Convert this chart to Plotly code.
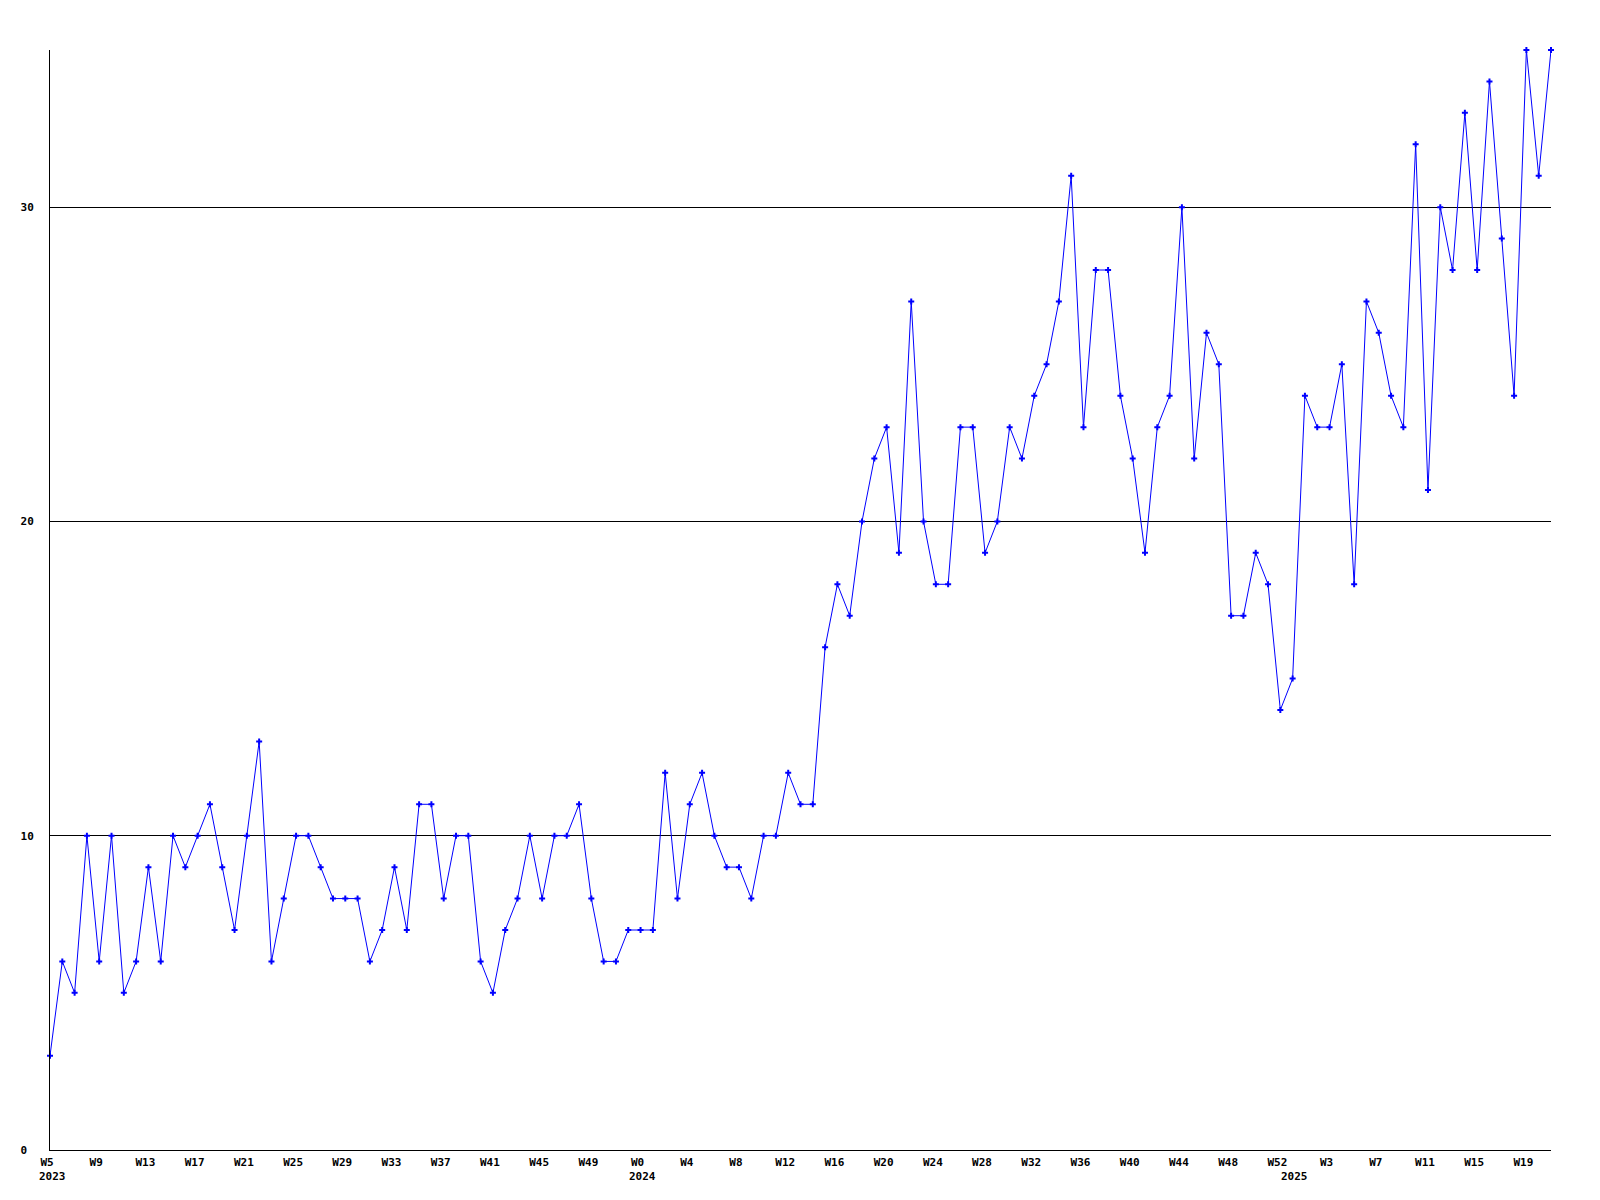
import plotly.graph_objects as go

# ---- data ----
years = [2023, 2024, 2025]
first_week = [5, 0, 0]
last_week = [52, 52, 21]

values = [
    3, 6, 5, 10, 6, 10, 5, 6, 9, 6, 10, 9, 10, 11, 9, 7, 10, 13, 6, 8,
    10, 10, 9, 8, 8, 8, 6, 7, 9, 7, 11, 11, 8, 10,
    10, 6, 5, 7, 8, 10, 8, 10, 10, 11, 8, 6, 6, 7, 7, 7, 12, 8, 11, 12,
    10, 9, 9, 8, 10, 10, 12, 11, 11,
    16, 18, 17, 20, 22, 23, 19, 27, 20, 18, 18, 23, 23, 19, 20, 23, 22, 24, 25, 27,
    31, 23, 28, 28, 24, 22, 19, 23, 24, 30, 22, 26, 25, 17, 17, 19, 18, 14, 15, 24,
    23, 23, 25, 18, 27, 26, 24, 23, 32, 21, 30, 28, 33, 28, 34, 29, 24, 35, 31, 35,
]

y_ticks = [0, 10, 20, 30]
y_tick_labels = ["0", "10", "20", "30"]
x_tick_step = 4
y_max = 35

# ---- build week categories ----
week_labels = []
year_start_idx = []
for yr, fw, lw in zip(years, first_week, last_week):
    year_start_idx.append(len(week_labels))
    for w in range(fw, lw + 1):
        week_labels.append(f"W{w}")

x_idx = list(range(len(values)))
tick_vals = x_idx[::x_tick_step]
tick_text = [week_labels[i] for i in tick_vals]

font_family = "DejaVu Sans Mono"

fig = go.Figure()
fig.add_trace(go.Scatter(
    x=x_idx, y=values,
    mode="lines+markers",
    line=dict(color="#0000ff", width=1),
    marker=dict(symbol="cross", size=5, color="#0000ff", line=dict(width=0)),
    cliponaxis=False,
    hoverinfo="skip",
    showlegend=False,
))

for yr, si in zip(years, year_start_idx):
    fig.add_annotation(
        x=si, y=0, xref="x", yref="paper",
        text=str(yr), showarrow=False,
        xanchor="center", yanchor="middle", yshift=-26, xshift=2,
        font=dict(family=font_family, size=11, color="black", weight="bold"),
    )

fig.update_layout(
    width=1584, height=1184,
    margin=dict(l=42, r=41, t=42, b=42),
    paper_bgcolor="white",
    plot_bgcolor="white",
    font=dict(family=font_family, size=11, color="black"),
    xaxis=dict(
        range=[0, len(values) - 1],
        tickmode="array",
        tickvals=tick_vals,
        ticktext=tick_text,
        ticks="",
        showgrid=False,
        zeroline=False,
        showline=True, linecolor="black", linewidth=1,
        tickfont=dict(family=font_family, size=11, color="black", weight="bold"),
        ticklabelshift=-3,
        ticklabelstandoff=2,
        automargin=False,
    ),
    yaxis=dict(
        range=[0, y_max],
        tickmode="array",
        tickvals=y_ticks,
        ticktext=[t + "\u00a0" * (2 - len(t)) for t in y_tick_labels],
        ticks="",
        showgrid=True, gridcolor="black", gridwidth=1,
        zeroline=False,
        showline=True, linecolor="black", linewidth=1,
        tickfont=dict(family=font_family, size=11, color="black", weight="bold"),
        ticklabelstandoff=13,
        automargin=False,
    ),
)

fig.write_html("out.html")
